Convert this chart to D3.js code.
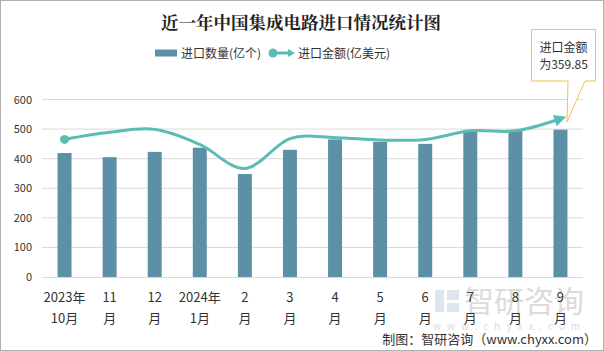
<!DOCTYPE html>
<html><head><meta charset="utf-8">
<script src="https://cdn.jsdelivr.net/npm/d3@7"></script>
<style>body{margin:0;background:#fff}svg{display:block}</style>
</head><body>
<svg id="c" width="604" height="351"></svg>
<script>
const categories = ["2023年|10月","11|月","12|月","2024年|1月","2|月","3|月","4|月","5|月","6|月","7|月","8|月","9|月"];
const quantity = [419,405,423,437,348,430,465,457,450,491,494,498];
const amount = [465,489,499,448,367,468,471,463,465,494,494,535];
const yTicks = [0,100,200,300,400,500,600];
const titleText = "近一年中国集成电路进口情况统计图";
const legendNames = ["进口数量(亿个)","进口金额(亿美元)"];
const calloutLines = ["进口金额","为359.85"];

const font = "'Noto Sans CJK SC','Noto Sans',sans-serif";
const svg = d3.select("#c");
const W=604,H=351;
const m={l:42,r:21,t:99.5,b:74};
const x = d3.scaleBand().domain(categories).range([m.l, W-m.r]).paddingInner(0.69).paddingOuter(0.345);
const y = d3.scaleLinear().domain([0,600]).range([277,99.5]);

svg.append("rect").attr("x",0.5).attr("y",0.5).attr("width",W-1).attr("height",H-1).attr("fill","#fff").attr("stroke","#b0b0b0");

// watermark
const wm = svg.append("g").attr("opacity",0.35);
wm.append("rect").attr("x",435).attr("y",290).attr("width",9).attr("height",22).attr("fill","#9fb7cf");
wm.append("rect").attr("x",447).attr("y",290).attr("width",12).attr("height",10).attr("fill","#9fb7cf");
wm.append("rect").attr("x",447).attr("y",303).attr("width",12).attr("height",9).attr("fill","#9fb7cf");
wm.append("text").attr("x",464).attr("y",312).attr("font-family",font).attr("font-size",30).attr("fill","#999").text("智研咨询");
wm.append("text").attr("x",433).attr("y",330).attr("font-family",font).attr("font-size",10).attr("letter-spacing",6).attr("fill","#999").text("www.chyxx.com");

// grid
svg.append("g").selectAll("line").data(yTicks.filter(d=>d>0)).join("line")
  .attr("x1",m.l).attr("x2",W-m.r).attr("y1",d=>y(d)).attr("y2",d=>y(d))
  .attr("stroke","#d9d9d9").attr("stroke-width",1);

// y axis
const ya = svg.append("g").attr("transform",`translate(${m.l},0)`).call(d3.axisLeft(y).tickValues(yTicks).tickSize(0).tickPadding(10));
ya.select(".domain").remove();
ya.selectAll("text").attr("font-family",font).attr("font-size",11).attr("fill","#333");

// bars
svg.append("g").selectAll("rect").data(quantity).join("rect")
  .attr("x",(d,i)=>x(categories[i])).attr("width",x.bandwidth())
  .attr("y",d=>y(d)).attr("height",d=>y(0)-y(d)).attr("fill","#5d8fa7");

// baseline
svg.append("line").attr("x1",m.l).attr("x2",W-m.r).attr("y1",y(0)+0.5).attr("y2",y(0)+0.5).attr("stroke","#d9d9d9");

// x axis labels
const xa = svg.append("g").attr("transform",`translate(0,${y(0)})`).call(d3.axisBottom(x).tickSize(0).tickFormat(()=>""));
xa.select(".domain").remove();
xa.selectAll(".tick").each(function(d){
  const parts=d.split("|");
  const g=d3.select(this);
  parts.forEach((p,k)=>g.append("text").attr("y",25+k*21).attr("text-anchor","middle")
    .attr("font-family",font).attr("font-size",13).attr("fill","#333").text(p));
});

// line
const defs = svg.append("defs");
defs.append("marker").attr("id","arr").attr("viewBox","0 0 10 10").attr("refX",5).attr("refY",5)
  .attr("markerWidth",4).attr("markerHeight",4).attr("orient","auto")
  .append("path").attr("d","M0,0L10,5L0,10z").attr("fill","#5bbcb4");
const line = d3.line().x((d,i)=>x(categories[i])+x.bandwidth()/2).y(d=>y(d)).curve(d3.curveCardinal.tension(0));
svg.append("path").datum(amount).attr("d",line).attr("fill","none").attr("stroke","#5bbcb4").attr("stroke-width",3).attr("marker-end","url(#arr)");
svg.append("circle").attr("cx",x(categories[0])+x.bandwidth()/2).attr("cy",y(amount[0])).attr("r",4.5).attr("fill","#5bbcb4");

// title
svg.append("text").attr("x",W/2-1).attr("y",29).attr("text-anchor","middle").attr("font-family","'Noto Serif CJK SC','Noto Sans CJK SC',serif")
  .attr("font-weight","bold").attr("font-size",17.5).attr("fill","#222").text(titleText);

// legend
svg.append("rect").attr("x",155).attr("y",49.5).attr("width",22).attr("height",7).attr("fill","#5d8fa7");
svg.append("text").attr("x",181).attr("y",57.5).attr("font-family",font).attr("font-size",12).attr("fill","#333").text(legendNames[0]);
svg.append("line").attr("x1",271).attr("x2",290).attr("y1",53).attr("y2",53).attr("stroke","#5bbcb4").attr("stroke-width",3);
svg.append("circle").attr("cx",273).attr("cy",53).attr("r",4.5).attr("fill","#5bbcb4");
svg.append("path").attr("d","M288,49L295,53L288,57z").attr("fill","#5bbcb4");
svg.append("text").attr("x",298).attr("y",57.5).attr("font-family",font).attr("font-size",12).attr("fill","#333").text(legendNames[1]);

// callout
svg.append("path").attr("d","M531.5,29.5H595.5V81H585L567,122L568,81H531.5Z").attr("fill","#fff").attr("stroke","#f5c242").attr("stroke-width",1);
calloutLines.forEach((t,k)=>svg.append("text").attr("x",563.5).attr("y",52+k*17).attr("text-anchor","middle")
  .attr("font-family",font).attr("font-size",12).attr("fill","#333").text(t));

// footer
svg.append("text").attr("x",597).attr("y",344).attr("text-anchor","end").attr("font-family",font).attr("font-size",13).attr("fill","#333").text("制图：智研咨询（www.chyxx.com）");
</script>
</body></html>
